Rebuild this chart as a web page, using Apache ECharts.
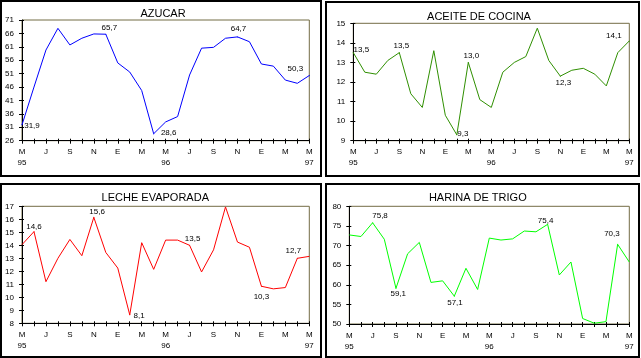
<!DOCTYPE html>
<html><head><meta charset="utf-8">
<script src="https://cdn.jsdelivr.net/npm/echarts@6/dist/echarts.min.js"></script>
<style>html,body{margin:0;padding:0;background:#fff}#c{width:641px;height:358px}</style>
</head><body><div id="c"></div>
<script>
// ---- data ----
const months = ['M','J','J','A','S','O','N','D','E','F','M','A','M','J','J','A','S','O','N','D','E','F','M','A','M'];
const yearTicks = [[0,'95'],[12,'96'],[24,'97']];
const titles = ['AZUCAR','ACEITE DE COCINA','LECHE EVAPORADA','HARINA DE TRIGO'];

const azucar = [31.9, 46.0, 59.8, 67.9, 61.7, 64.2, 65.8, 65.7, 55.0, 51.6, 44.7, 28.6, 33.0, 35.0, 50.5, 60.5, 60.8, 64.2, 64.7, 62.9, 54.6, 53.8, 48.6, 47.4, 50.3];
const aceite = [13.5, 12.5, 12.4, 13.1, 13.5, 11.4, 10.7, 13.6, 10.3, 9.3, 13.0, 11.1, 10.7, 12.5, 13.0, 13.3, 14.75, 13.1, 12.3, 12.6, 12.7, 12.4, 11.8, 13.5, 14.1];
const leche = [14.05, 15.05, 11.2, 13.0, 14.45, 13.2, 16.15, 13.45, 12.25, 8.65, 14.2, 12.15, 14.4, 14.4, 14.0, 11.95, 13.65, 16.95, 14.25, 13.85, 10.85, 10.65, 10.75, 13.0, 13.15];
const harina = [72.7, 72.3, 75.8, 71.6, 59.1, 67.9, 70.8, 60.6, 61.0, 57.1, 64.2, 58.8, 71.9, 71.4, 71.7, 73.7, 73.5, 75.4, 62.5, 65.8, 51.4, 50.2, 50.6, 70.3, 65.8];

const azucarTicks = [26, 31, 36, 41, 46, 51, 56, 61, 66, 71];
const aceiteTicks = [9, 10, 11, 12, 13, 14, 15];
const lecheTicks = [8, 9, 10, 11, 12, 13, 14, 15, 16, 17];
const harinaTicks = [50, 55, 60, 65, 70, 75, 80];

const azucarNotes = [[0,'31,9'],[7,'65,7'],[11,'28,6'],[18,'64,7'],[24,'50,3']];
const aceiteNotes = [[0,'13,5'],[4,'13,5'],[9,'9,3'],[10,'13,0'],[18,'12,3'],[24,'14,1']];
const lecheNotes = [[1,'14,6'],[6,'15,6'],[9,'8,1'],[14,'13,5'],[20,'10,3'],[23,'12,7']];
const harinaNotes = [[2,'75,8'],[4,'59,1'],[9,'57,1'],[17,'75,4'],[23,'70,3']];

// ---- layout / style ----
const FONT = '"Liberation Sans", Arial, sans-serif';
const panels = [
  {values: azucar, ticks: azucarTicks, notes: azucarNotes, color: '#0000ff',
   grid: {left: 22, top: 20, width: 287.3, height: 120.7}, title: [163, 14], box: [1, 1, 320, 175],
   offsets: [[10, 1], [3.5, -6], [15, -1], [1, -8], [-14, -7]]},
  {values: aceite, ticks: aceiteTicks, notes: aceiteNotes, color: '#2f8f00',
   grid: {left: 353.3, top: 23.3, width: 276, height: 117.4}, title: [479, 16.7], box: [326, 2, 313, 174],
   offsets: [[8, -3], [2, -7], [6, -1], [3, -7], [3, 7], [-15.5, -5.5]]},
  {values: leche, ticks: lecheTicks, notes: lecheNotes, color: '#ff0000',
   grid: {left: 22, top: 206.3, width: 287.3, height: 117}, title: [155.3, 198], box: [1, 184, 320, 173],
   offsets: [[0, -5], [3.3, -6], [9.4, 1], [3, -7], [0, 11], [-4, -8]]},
  {values: harina, ticks: harinaTicks, notes: harinaNotes, color: '#00ff00',
   grid: {left: 349.3, top: 206.3, width: 280, height: 117.7}, title: [477.8, 198], box: [326, 184, 313, 173],
   offsets: [[7.4, -7], [2.3, 5.5], [0.7, 6.3], [-2, -4], [-5.7, -11]]}
];

const yearAt = {};
yearTicks.forEach(([i, t]) => { yearAt[i] = t; });

const grid = [], xAxis = [], yAxis = [], series = [], graphic = [];
panels.forEach((p, i) => {
  grid.push(Object.assign({show: true, borderColor: '#736c45', borderWidth: 1, backgroundColor: 'transparent'}, p.grid));
  const ticksArr = p.ticks;
  const base = {gridIndex: i, type: 'category', data: months, boundaryGap: false, position: 'bottom'};
  xAxis.push(Object.assign({}, base, {
    axisLine: {show: true, lineStyle: {color: '#000', width: 1}},
    axisTick: {show: true, interval: 0, length: 3, lineStyle: {color: '#000'}},
    axisLabel: {interval: 1, margin: 6, fontSize: 8, fontFamily: FONT, color: '#000', lineHeight: 11,
      formatter: (v, idx) => yearAt[idx] ? v + '\n' + yearAt[idx] : v},
    splitLine: {show: false}
  }));
  xAxis.push(Object.assign({}, base, {
    axisLine: {show: false},
    axisTick: {show: true, inside: true, interval: 0, length: 2, lineStyle: {color: '#000'}},
    axisLabel: {show: false}, splitLine: {show: false}
  }));
  const ybase = {gridIndex: i, type: 'value', position: 'left', min: ticksArr[0], max: ticksArr[ticksArr.length - 1]};
  yAxis.push(Object.assign({}, ybase, {
    axisLine: {show: true, lineStyle: {color: '#000', width: 1}},
    axisTick: {show: true, length: 3, customValues: ticksArr, lineStyle: {color: '#000'}},
    axisLabel: {customValues: ticksArr, margin: 8, fontSize: 8, fontFamily: FONT, color: '#000'},
    splitLine: {show: false}
  }));
  yAxis.push(Object.assign({}, ybase, {
    axisLine: {show: false},
    axisTick: {show: true, inside: true, length: 2, customValues: ticksArr, lineStyle: {color: '#000'}},
    axisLabel: {show: false}, splitLine: {show: false}
  }));
  const noteMap = {};
  p.notes.forEach(([idx, txt], k) => { noteMap[idx] = {txt, off: p.offsets[k]}; });
  const data = p.values.map((v, idx) => {
    const n = noteMap[idx];
    if (!n) return v;
    return {value: v, symbol: 'circle', symbolSize: 1,
      label: {show: true, formatter: n.txt, offset: n.off}};
  });
  series.push({
    type: 'line', xAxisIndex: 2 * i, yAxisIndex: 2 * i, data,
    symbol: 'none', showSymbol: true, showAllSymbol: true,
    lineStyle: {color: p.color, width: 1}, itemStyle: {color: p.color},
    label: {show: false, position: 'inside', fontSize: 8, fontFamily: FONT, color: '#000'},
    emphasis: {disabled: true}, silent: true, animation: false
  });
  graphic.push({type: 'rect', silent: true, z: 10,
    shape: {x: p.box[0], y: p.box[1], width: p.box[2], height: p.box[3]},
    style: {fill: 'none', stroke: '#000', lineWidth: 2}});
  graphic.push({type: 'text', silent: true, z: 10, x: p.title[0], y: p.title[1],
    style: {text: titles[i], fill: '#000', font: '11px ' + FONT, textAlign: 'center', textVerticalAlign: 'middle'}});
});

const chart = echarts.init(document.getElementById('c'), null, {renderer: 'canvas'});
chart.setOption({backgroundColor: '#fff', animation: false, grid, xAxis, yAxis, series, graphic});
</script></body></html>
